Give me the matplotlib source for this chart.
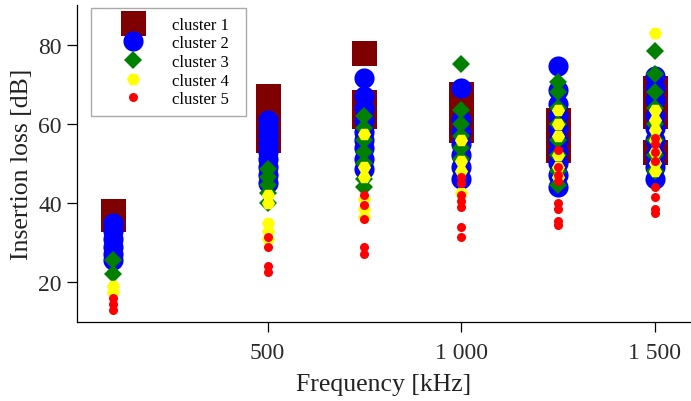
import matplotlib
matplotlib.use("Agg")
import matplotlib.pyplot as plt
from matplotlib.ticker import FixedLocator, FixedFormatter

plt.rcParams['font.family'] = ['Liberation Serif', 'DejaVu Serif']

# frequency groups [kHz]
freqs = [100, 500, 750, 1000, 1250, 1500]

# insertion loss [dB] per cluster, one list per frequency
cluster1 = [[38, 36],
            [67, 64, 61, 58, 56],
            [78, 65.5, 62],
            [67.5, 64, 61, 58.5],
            [61, 57, 53.5],
            [69, 65, 62, 53]]
cluster2 = [[35, 33, 31, 29, 27, 25.5],
            [61, 59, 57, 55, 53, 51, 49, 47, 45],
            [71.5, 67, 64, 61, 58, 56, 54, 51, 48.5],
            [69, 61, 58, 55, 52, 49, 46],
            [74.5, 68.5, 65, 62, 59, 56, 53, 50, 47, 44],
            [72, 69, 66, 62, 59, 56, 52, 49, 46]]
cluster3 = [[25.5, 22],
            [48.5, 46.5, 44.5, 42.5, 40],
            [62, 59, 56, 53, 50, 46, 44],
            [75, 63.5, 60, 57, 54, 51],
            [70.5, 68, 64, 60, 56, 52, 48, 44.5],
            [78.5, 72.5, 68, 64, 60, 56, 52, 48]]
cluster4 = [[19, 17.5],
            [42, 40, 35, 33, 31],
            [57.5, 49, 46.5, 41, 38.5, 36.5],
            [56, 50.5, 48, 42.5],
            [63.5, 60, 57, 52, 49, 46.5],
            [83, 63.5, 61, 58.5, 56, 53, 50, 48]]
cluster5 = [[16, 14.5, 13],
            [31.5, 29, 24, 22.5],
            [42, 39.5, 36, 29, 27],
            [46.5, 45, 42, 40.5, 39, 34, 31.5],
            [53.5, 49, 47, 45.5, 40, 38.5, 35.5, 34.5],
            [56.5, 55, 53, 50.5, 44, 41.5, 38.5, 37.5]]

labels = ['cluster 1', 'cluster 2', 'cluster 3', 'cluster 4', 'cluster 5']
xticks = [500, 1000, 1500]
xticklabels = ['500', '1 000', '1 500']
yticks = [20, 40, 60, 80]

clusters = [cluster1, cluster2, cluster3, cluster4, cluster5]
colors = ['#7f0000', '#0000ff', '#008000', '#ffff00', '#ff0000']
markers = ['s', 'o', 'D', 'H', 'o']
msizes = [18, 14.5, 8.8, 9.5, 6.5]

fig = plt.figure(figsize=(6.91, 4.02), dpi=100)
ax = fig.add_axes([77 / 691, 0.197, 1 - 77 / 691, 0.788])

for vals, col, mk, ms, lab in zip(clusters, colors, markers, msizes, labels):
    xs, ys = [], []
    for f, v in zip(freqs, vals):
        xs += [f] * len(v)
        ys += v
    ax.plot(xs, ys, linestyle='none', marker=mk, color=col, markersize=ms,
            markeredgewidth=0, label=lab)

ax.set_xlim(8, 1593)
ax.set_ylim(10, 90)
ax.xaxis.set_major_locator(FixedLocator(xticks))
ax.xaxis.set_major_formatter(FixedFormatter(xticklabels))
ax.set_yticks(yticks)

for s in ['top', 'right']:
    ax.spines[s].set_visible(False)
for s in ['left', 'bottom']:
    ax.spines[s].set_linewidth(0.9)
ax.tick_params(axis='both', direction='out', length=7, width=0.9,
               labelsize=17, labelcolor='#2b2b2b')
ax.tick_params(axis='x', pad=7.5)
ax.tick_params(axis='y', pad=4)

ax.set_xlabel('Frequency [kHz]', fontsize=18.5, color='#222222', labelpad=7)
ax.set_ylabel('Insertion loss [dB]', fontsize=18.5, color='#222222', labelpad=4)

leg = ax.legend(loc='upper left', bbox_to_anchor=(0.023, 0.5, 0.2525, 0.49),
                mode='expand', borderaxespad=0, fontsize=12, frameon=True,
                fancybox=False, edgecolor='#aaaaaa', framealpha=1,
                handlelength=4.0, handletextpad=0.35, labelspacing=0.16,
                borderpad=0.5, numpoints=1)
leg.get_frame().set_linewidth(1.0)

fig.savefig('out.png', dpi=100)
